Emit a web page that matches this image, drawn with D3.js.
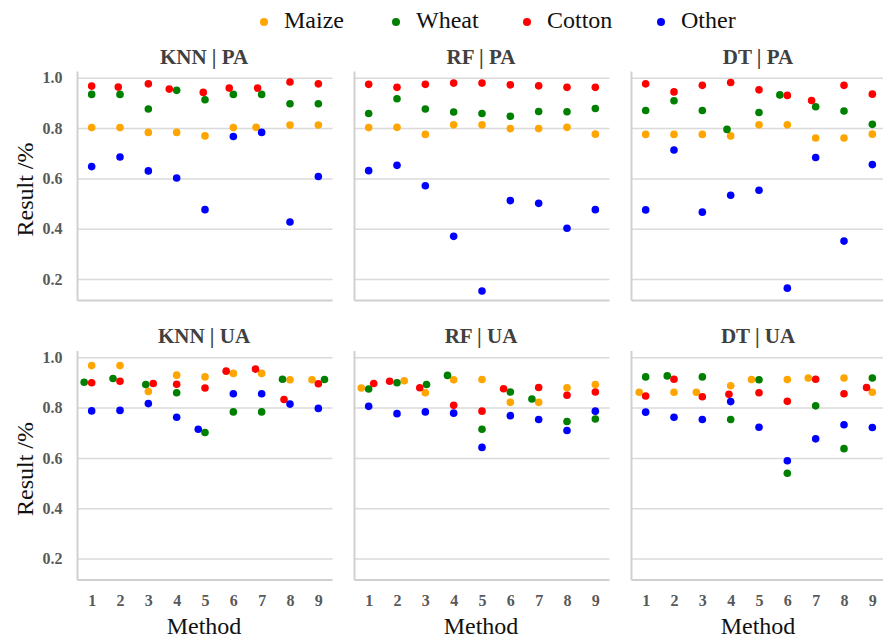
<!DOCTYPE html>
<html>
<head>
<meta charset="utf-8">
<script src="https://cdn.jsdelivr.net/npm/d3@7"></script>
<style>
  body { margin: 0; background: #fff; }
</style>
</head>
<body>
<div id="chart"></div>
<script>
// categories and series
const methods = [1, 2, 3, 4, 5, 6, 7, 8, 9];
const seriesNames = ["Maize", "Wheat", "Cotton", "Other"];
const seriesColors = ["#ffa500", "#008000", "#ff0000", "#0000ff"];
const yTicks = [0.2, 0.4, 0.6, 0.8, 1.0];

// values, one array per crop class
const knnPA = {
    Maize:  [0.802, 0.802, 0.783, 0.783, 0.769, 0.802, 0.803, 0.812, 0.812],
    Wheat:  [0.934, 0.934, 0.876, 0.950, 0.913, 0.934, 0.934, 0.897, 0.897],
    Cotton: [0.967, 0.963, 0.976, 0.955, 0.942, 0.959, 0.959, 0.983, 0.976],
    Other:  [0.647, 0.685, 0.630, 0.602, 0.476, 0.767, 0.783, 0.427, 0.608]
};
const rfPA = {
    Maize:  [0.802, 0.803, 0.775, 0.813, 0.813, 0.798, 0.798, 0.803, 0.776],
    Wheat:  [0.858, 0.917, 0.876, 0.864, 0.858, 0.847, 0.866, 0.865, 0.878],
    Cotton: [0.974, 0.962, 0.974, 0.979, 0.979, 0.972, 0.968, 0.962, 0.962],
    Other:  [0.631, 0.652, 0.571, 0.370, 0.153, 0.512, 0.501, 0.402, 0.476]
};
const dtPA = {
    Maize:  [0.775, 0.775, 0.775, 0.769, 0.813, 0.813, 0.761, 0.761, 0.776],
    Wheat:  [0.870, 0.909, 0.870, 0.795, 0.862, 0.932, 0.885, 0.868, 0.815],
    Cotton: [0.976, 0.944, 0.970, 0.981, 0.952, 0.930, 0.910, 0.970, 0.935],
    Other:  [0.475, 0.713, 0.466, 0.533, 0.553, 0.164, 0.683, 0.351, 0.655]
};
const knnUA = {
    Maize:  [0.967, 0.967, 0.864, 0.929, 0.922, 0.936, 0.936, 0.911, 0.911],
    Wheat:  [0.901, 0.916, 0.892, 0.859, 0.701, 0.783, 0.783, 0.913, 0.912],
    Cotton: [0.899, 0.905, 0.896, 0.893, 0.878, 0.945, 0.953, 0.832, 0.895],
    Other:  [0.787, 0.789, 0.816, 0.762, 0.714, 0.855, 0.855, 0.814, 0.797]
};
const rfUA = {
    Maize:  [0.878, 0.907, 0.859, 0.911, 0.912, 0.821, 0.821, 0.879, 0.892],
    Wheat:  [0.874, 0.899, 0.892, 0.928, 0.714, 0.862, 0.834, 0.745, 0.755],
    Cotton: [0.896, 0.905, 0.879, 0.809, 0.786, 0.875, 0.880, 0.849, 0.862],
    Other:  [0.805, 0.776, 0.783, 0.778, 0.642, 0.768, 0.753, 0.709, 0.786]
};
const dtUA = {
    Maize:  [0.861, 0.861, 0.861, 0.887, 0.912, 0.912, 0.918, 0.918, 0.861],
    Wheat:  [0.922, 0.926, 0.922, 0.753, 0.911, 0.539, 0.807, 0.637, 0.918],
    Cotton: [0.846, 0.913, 0.843, 0.853, 0.859, 0.825, 0.913, 0.855, 0.880],
    Other:  [0.782, 0.762, 0.753, 0.824, 0.722, 0.589, 0.676, 0.732, 0.721]
};

const panels = [
    { title: "KNN | PA", data: knnPA, row: 0, col: 0 },
    { title: "RF | PA",  data: rfPA,  row: 0, col: 1 },
    { title: "DT | PA",  data: dtPA,  row: 0, col: 2 },
    { title: "KNN | UA", data: knnUA, row: 1, col: 0 },
    { title: "RF | UA",  data: rfUA,  row: 1, col: 1 },
    { title: "DT | UA",  data: dtUA,  row: 1, col: 2 }
];

const width = 883, height = 641;
const panelW = 255, panelH = 229;
const colX = [77.5, 354.5, 631.5];
const rowY = [71.5, 351];
const dotR = 3.8, minGap = 7.5;
const serif = "Liberation Serif";

const svg = d3.select("#chart").append("svg")
    .attr("width", width)
    .attr("height", height);

// legend
const legendX = [264, 396, 527, 661];
const legend = svg.append("g");
seriesNames.forEach(function (name, i) {
    legend.append("circle")
        .attr("cx", legendX[i]).attr("cy", 22)
        .attr("r", 4).attr("fill", seriesColors[i]);
    legend.append("text")
        .attr("x", legendX[i] + 20).attr("y", 28)
        .attr("font-family", serif)
        .attr("font-size", 24)
        .attr("fill", "#111")
        .text(name);
});

// simple beeswarm: lowest value stays centred, others step aside to avoid overlap
function dodge(points) {
    const sorted = points.slice().sort(function (a, b) { return a.v - b.v || a.s - b.s; });
    const placed = [];
    sorted.forEach(function (p) {
        let cands = [0];
        placed.forEach(function (q) {
            const dy = p.py - q.py;
            if (Math.abs(dy) < minGap) {
                const h = Math.sqrt(minGap * minGap - dy * dy);
                cands.push(q.dx - h, q.dx + h);
            }
        });
        cands = cands.filter(function (c) {
            return placed.every(function (q) {
                return (c - q.dx) * (c - q.dx) + (p.py - q.py) * (p.py - q.py) >= minGap * minGap - 1e-6;
            });
        });
        cands.sort(function (a, b) { return Math.abs(a) - Math.abs(b) || a - b; });
        p.dx = cands[0];
        placed.push(p);
    });
}

panels.forEach(function (pn) {
    const x0 = colX[pn.col], y0 = rowY[pn.row];
    const x = d3.scalePoint().domain(methods).range([x0, x0 + panelW]).padding(0.5);
    const y = d3.scaleLinear().domain([0.115, 1.025]).range([y0 + panelH, y0]);

    const g = svg.append("g");

    // gridlines + y labels
    const yAxis = g.append("g")
        .attr("transform", "translate(" + x0 + ",0)")
        .call(d3.axisLeft(y).tickValues(yTicks).tickSize(-panelW)
            .tickFormat(pn.col === 0 ? d3.format(".1f") : ""));
    yAxis.select(".domain").remove();
    yAxis.selectAll(".tick line").attr("stroke", "#dadada").attr("stroke-width", 1.5);
    yAxis.selectAll(".tick text")
        .attr("x", -15)
        .attr("fill", "#595959")
        .attr("font-family", serif)
        .attr("font-size", 16)
        .attr("font-weight", "bold");

    // frame: left and bottom lines
    g.append("line")
        .attr("x1", x0).attr("x2", x0)
        .attr("y1", y0).attr("y2", y0 + panelH)
        .attr("stroke", "#d0d0d0").attr("stroke-width", 2);
    g.append("line")
        .attr("x1", x0).attr("x2", x0 + panelW)
        .attr("y1", y0 + panelH).attr("y2", y0 + panelH)
        .attr("stroke", "#d0d0d0").attr("stroke-width", 2);

    // x axis labels on bottom row only
    if (pn.row === 1) {
        const xAxis = g.append("g")
            .attr("transform", "translate(0," + (y0 + panelH) + ")")
            .call(d3.axisBottom(x).tickSize(0).tickPadding(15));
        xAxis.select(".domain").remove();
        xAxis.selectAll(".tick text")
            .attr("fill", "#595959")
            .attr("font-family", serif)
            .attr("font-size", 16)
            .attr("font-weight", "bold");
        g.append("text")
            .attr("x", x0 + panelW / 2 - 1).attr("y", 634)
            .attr("text-anchor", "middle")
            .attr("font-family", serif)
            .attr("font-size", 24)
            .attr("fill", "#111")
            .text("Method");
    }

    // panel title
    g.append("text")
        .attr("x", x0 + panelW / 2 - 1).attr("y", y0 - 8)
        .attr("text-anchor", "middle")
        .attr("font-family", serif)
        .attr("font-size", 21)
        .attr("font-weight", "bold")
        .attr("fill", "#404040")
        .text(pn.title);

    // points
    const pts = [];
    seriesNames.forEach(function (name, s) {
        pn.data[name].forEach(function (v, i) {
            pts.push({ m: methods[i], v: v, s: s, py: y(v), dx: 0 });
        });
    });
    methods.forEach(function (m) {
        dodge(pts.filter(function (p) { return p.m === m; }));
    });

    g.append("g").selectAll("circle")
        .data(pts)
        .enter().append("circle")
        .attr("cx", function (d) { return x(d.m) + d.dx; })
        .attr("cy", function (d) { return d.py; })
        .attr("r", dotR)
        .attr("fill", function (d) { return seriesColors[d.s]; });
});

// y axis titles
[0, 1].forEach(function (r) {
    svg.append("text")
        .attr("transform", "translate(33," + (rowY[r] + 118) + ") rotate(-90)")
        .attr("text-anchor", "middle")
        .attr("font-family", serif)
        .attr("font-size", 24)
        .attr("fill", "#111")
        .text("Result /%");
});
</script>
</body>
</html>
